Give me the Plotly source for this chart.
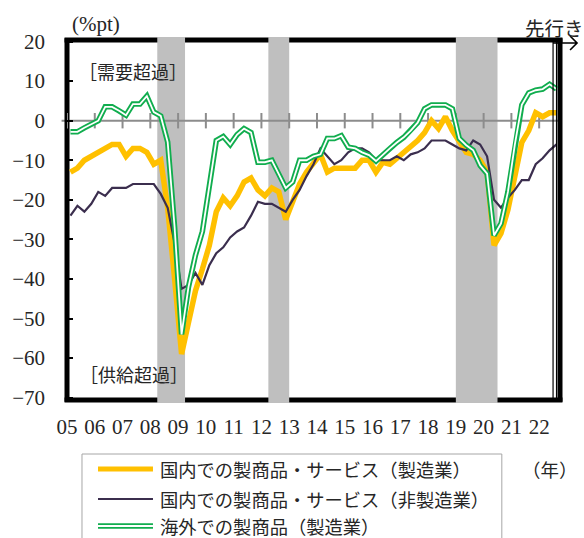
import plotly.graph_objects as go

# ---- data: quarterly DI, 2005Q1 - 2022Q3 (last quarter is the forecast) ----
quarters = [f"{y}Q{q}" for y in range(2005, 2023) for q in range(1, 5)][:71]

mfg_domestic = [
    -13, -12, -10, -9, -8, -7, -6, -6, -9, -7, -7, -8,
    -11, -10, -22, -40, -59, -51, -43, -37.5, -31.5, -23, -19.5, -21.5,
    -19, -15.5, -14.5, -17.5, -19, -17, -18, -25, -20, -16, -13, -10.5,
    -8.5, -13, -12, -12, -12, -12, -10, -10, -13, -10.5, -11, -9.5,
    -8, -6.5, -5, -3, 0, -2, 1, -2.5, -5.5, -8, -8.5, -10,
    -13, -31.5, -28.5, -22.5, -14, -5.5, -2.5, 2, 1, 2, 2,
]
nonmfg_domestic = [
    -24, -21.5, -23, -21, -18, -19, -17, -17, -17, -16, -16, -16,
    -16, -18.5, -22, -31, -42.5, -41.5, -38.5, -41.5, -36.5, -33.5, -32, -29.5,
    -28, -27, -24, -20.5, -21, -21, -22, -23, -20, -17.5, -14, -11,
    -7, -9, -11, -10, -8, -7, -7, -8, -10, -10, -10, -9,
    -10, -8.5, -8, -7, -5, -5, -5, -6, -7, -7.5, -5, -6,
    -9, -20, -22, -19.5, -17.5, -15, -15, -11, -9.5, -7.5, -6,
]
mfg_overseas = [
    -2.8, -2.8, -1.8, -1, 0, 3.5, 3.5, 2.5, 1.4, 4.2, 4.2, 6.2,
    2.2, 1.2, -5.4, -27, -54, -42, -34, -28, -16, -5, -4, -6,
    -3.5, -2, -3, -10.5, -10.5, -10, -13.5, -17, -15.5, -10, -10, -9,
    -8.5, -4.5, -4.5, -3.8, -6.7, -7, -8, -8.7, -10.2, -8.5, -7, -5.5,
    -4.2, -2.5, -0.5, 3, 4, 4, 4, 3, -4.5, -6.2, -7.5, -11.3,
    -13.4, -29, -26, -18, -6, 4, 7, 7.7, 8, 9.2, 8,
]

recessions = [("2008Q2", "2009Q1"), ("2012Q2", "2012Q4"), ("2019Q1", "2020Q2")]
forecast_from = "2022Q3"

year_ticks = list(range(2005, 2023))
year_labels = [f"{y % 100:02d}" for y in year_ticks]

series_names = [
    "国内での製商品・サービス（製造業）",
    "国内での製商品・サービス（非製造業）",
    "海外での製商品（製造業）",
]

YELLOW = "#FFC000"
DARK = "#3B2E4E"
GREEN = "#10AD4E"
BAND = "#BFBFBF"
AXIS_GRAY = "#8C8C8C"
TXT = "#262626"

X_MIN, X_MAX = 2005, 2022.75


def q_start(label):
    y, q = label.split("Q")
    return int(y) + (int(q) - 1) / 4


def q_mid(label):
    return q_start(label) + 0.125


x = [q_mid(q) for q in quarters]

fig = go.Figure()

# small tick marks sitting on the zero line, one per year
fig.add_trace(go.Scatter(
    x=year_ticks, y=[0] * len(year_ticks), mode="markers",
    marker=dict(symbol="line-ns", size=11, line=dict(width=2, color=AXIS_GRAY)),
    hoverinfo="skip", showlegend=False,
))

fig.add_trace(go.Scatter(x=x, y=mfg_domestic, mode="lines",
                         line=dict(color=YELLOW, width=5.5), showlegend=False))
fig.add_trace(go.Scatter(x=x, y=nonmfg_domestic, mode="lines",
                         line=dict(color=DARK, width=2.2), showlegend=False))
# overseas series drawn as a hollow double line
fig.add_trace(go.Scatter(x=x, y=mfg_overseas, mode="lines",
                         line=dict(color=GREEN, width=5.5), showlegend=False))
fig.add_trace(go.Scatter(x=x, y=mfg_overseas, mode="lines",
                         line=dict(color="white", width=1.8), showlegend=False))

shapes = []
# top / bottom frame edges (recession bands are laid over them)
shapes.append(dict(type="line", xref="paper", yref="paper", x0=-0.005, x1=1.005,
                   y0=1, y1=1, line=dict(color="black", width=5), layer="below"))
shapes.append(dict(type="line", xref="paper", yref="paper", x0=-0.005, x1=1.005,
                   y0=0, y1=0, line=dict(color="black", width=5), layer="below"))
for a, b in recessions:
    shapes.append(dict(type="rect", xref="x", yref="paper",
                       x0=q_start(a), x1=q_start(b) + 0.25, y0=-0.008, y1=1.008,
                       fillcolor=BAND, line=dict(width=0), layer="below"))
# zero line
shapes.append(dict(type="line", xref="paper", yref="y", x0=-0.011, x1=1, y0=0, y1=0,
                   line=dict(color=AXIS_GRAY, width=2), layer="below"))
# left / right frame edges
shapes.append(dict(type="line", xref="paper", yref="paper", x0=0, x1=0,
                   y0=-0.005, y1=1.005, line=dict(color="black", width=5), layer="below"))
shapes.append(dict(type="line", xref="paper", yref="paper", x0=1, x1=1,
                   y0=-0.005, y1=1.005, line=dict(color="black", width=5), layer="below"))
# forecast boundary
fb = q_start(forecast_from)
shapes.append(dict(type="line", xref="x", yref="paper", x0=fb, x1=fb, y0=0, y1=1,
                   line=dict(color="black", width=1.2)))
shapes.append(dict(type="line", xref="x", yref="paper", x0=x[-1], x1=x[-1], y0=0, y1=1,
                   line=dict(color="black", width=1.2)))
# arrow pointing into the forecast period (paper-referenced so it may leave the axes)
fb_paper = (fb - X_MIN) / (X_MAX - X_MIN)
shapes.append(dict(type="path", xref="paper", yref="paper", xsizemode="pixel",
                   ysizemode="pixel", xanchor=fb_paper, yanchor=1,
                   path="M0,-3 L24,-3 M17,-10 L24,-3 L17,4",
                   line=dict(color="black", width=1.6)))

# legend drawn by hand below the axes
L0, L1 = 0.0629, 0.1744
legend_y = [-0.1917, -0.275, -0.3500]
shapes.append(dict(type="rect", xref="paper", yref="paper", x0=0.0304, x1=0.882,
                   y0=-0.15, y1=-0.42, line=dict(color="#A6A6A6", width=1)))
shapes.append(dict(type="line", xref="paper", yref="paper", x0=L0, x1=L1,
                   y0=legend_y[0], y1=legend_y[0], line=dict(color=YELLOW, width=5)))
shapes.append(dict(type="line", xref="paper", yref="paper", x0=L0, x1=L1,
                   y0=legend_y[1], y1=legend_y[1], line=dict(color=DARK, width=2.2)))
shapes.append(dict(type="line", xref="paper", yref="paper", x0=L0, x1=L1,
                   y0=legend_y[2], y1=legend_y[2], line=dict(color=GREEN, width=5.5)))
shapes.append(dict(type="line", xref="paper", yref="paper", x0=L0, x1=L1,
                   y0=legend_y[2], y1=legend_y[2], line=dict(color="white", width=1.8)))

JP = "Noto Sans CJK JP"
SERIF = "Liberation Serif"
annotations = []
for name, yy in zip(series_names, legend_y):
    annotations.append(dict(text=name, xref="paper", yref="paper", x=0.1846, y=yy,
                            xanchor="left", yanchor="middle", showarrow=False,
                            font=dict(family=JP, size=18.3, color=TXT)))
annotations += [
    dict(text="（年）", xref="paper", yref="paper", x=0.98, y=-0.1917,
         xanchor="center", yanchor="middle", showarrow=False,
         font=dict(family=JP, size=18.5, color=TXT)),
    dict(text="先行き", xref="paper", yref="paper", x=0.989, y=1.036,
         xanchor="center", yanchor="middle", showarrow=False,
         font=dict(family=JP, size=19.5, color=TXT)),
    dict(text="(%pt)", xref="paper", yref="paper", x=0.0588, y=1.044,
         xanchor="center", yanchor="middle", showarrow=False,
         font=dict(family=SERIF, size=21, color=TXT)),
    dict(text="［需要超過］", xref="paper", yref="y", x=0.02, y=12.6,
         xanchor="left", yanchor="middle", showarrow=False,
         font=dict(family=JP, size=18, color=TXT)),
    dict(text="［供給超過］", xref="paper", yref="y", x=0.022, y=-64.1,
         xanchor="left", yanchor="middle", showarrow=False,
         font=dict(family=JP, size=18, color=TXT)),
]

fig.update_layout(
    width=584, height=538,
    margin=dict(l=67, r=24, t=40, b=138),
    paper_bgcolor="white", plot_bgcolor="white",
    showlegend=False,
    shapes=shapes, annotations=annotations,
    xaxis=dict(range=[X_MIN, X_MAX], tickvals=year_ticks, ticktext=year_labels,
               ticks="", showgrid=False, zeroline=False, showline=False,
               ticklabelstandoff=12,
               tickfont=dict(family=SERIF, size=21, color=TXT)),
    yaxis=dict(range=[-70.6, 20.4], tickvals=list(range(-70, 21, 10)),
               ticks="inside", ticklen=6, tickwidth=2, tickcolor="black",
               showgrid=False, zeroline=False, showline=False,
               ticklabelstandoff=21,
               tickfont=dict(family=SERIF, size=21, color=TXT)),
)

fig.write_html("out.html")
